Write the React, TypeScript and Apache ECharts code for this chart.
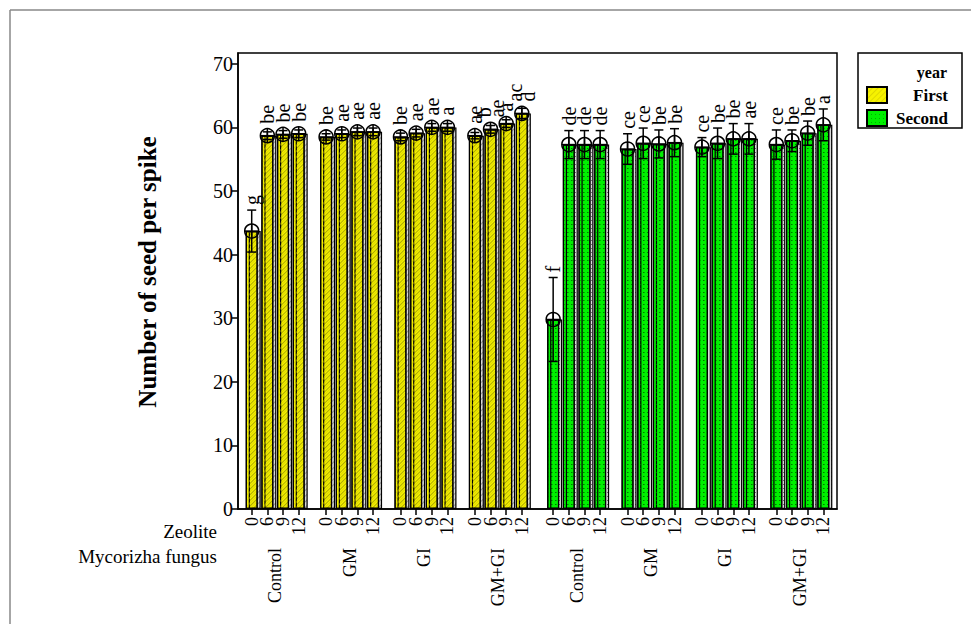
import React, { useEffect, useRef } from "react";
import * as echarts from "echarts";

// ---- data ----
const zeoliteLevels = ["0", "6", "9", "12"];
const fungusGroups = ["Control", "GM", "GI", "GM+GI"];
const years = ["First", "Second"];
const yTicks = [0, 10, 20, 30, 40, 50, 60, 70];

const firstMeans = [43.7, 58.7, 58.9, 59.0, 58.5, 59.0, 59.3, 59.3, 58.5, 59.1, 60.0, 60.0, 58.7, 59.7, 60.6, 62.2];
const firstErrors = [3.3, 0.6, 0.6, 0.6, 0.5, 0.6, 0.6, 0.6, 0.6, 0.6, 0.6, 0.6, 0.5, 0.6, 0.6, 0.8];
const firstLetters = ["g", "be", "be", "be", "be", "ae", "ae", "ae", "be", "ae", "ae", "a", "ae", "b\nae", "a", "ac\nd"];

const secondMeans = [29.8, 57.3, 57.3, 57.3, 56.6, 57.5, 57.4, 57.6, 56.9, 57.5, 58.2, 58.2, 57.3, 57.9, 59.1, 60.4];
const secondErrors = [6.6, 2.2, 2.2, 2.2, 2.4, 2.4, 2.2, 2.2, 1.5, 2.4, 2.4, 2.4, 2.3, 1.7, 1.9, 2.5];
const secondLetters = ["f", "de", "de", "de", "ce", "ce", "be", "be", "ce", "be", "be", "ae", "ce", "be", "be", "a"];

// ---- layout of category slots (fine grid) ----
const PAD = 3;
const GROUP_STEP = 19;
const BAR_STEP = 4;
const NCAT = 153;
function posOf(year: number, group: number, level: number) {
  return PAD + (year * 4 + group) * GROUP_STEP + year + level * BAR_STEP;
}

const SERIF = '"Liberation Serif", "Times New Roman", serif';

export default function App() {
  const ref = useRef<HTMLDivElement>(null);
  useEffect(() => {
    if (!ref.current) return;
    const chart = echarts.init(ref.current, null, { renderer: "svg" });

    const cats = Array.from({ length: NCAT }, (_, i) => String(i));
    const zeoLabelAt: Record<number, string> = {};
    const groupLabelAt: Record<number, string> = {};
    const firstBar: any[] = Array(NCAT).fill("-");
    const secondBar: any[] = Array(NCAT).fill("-");
    const meansByYear = [firstMeans, secondMeans];
    const errsByYear = [firstErrors, secondErrors];
    const lettersByYear = [firstLetters, secondLetters];
    const errData: any[][] = [[], []];
    for (let y = 0; y < 2; y++) {
      for (let g = 0; g < 4; g++) {
        groupLabelAt[posOf(y, g, 0) + 6] = fungusGroups[g];
        for (let l = 0; l < 4; l++) {
          const p = posOf(y, g, l);
          const k = g * 4 + l;
          zeoLabelAt[p] = zeoliteLevels[l];
          const m = meansByYear[y][k];
          const e = errsByYear[y][k];
          (y === 0 ? firstBar : secondBar)[p] = m;
          errData[y].push([p, m, m - e, m + e]);
        }
      }
    }

    const hatch = {
      symbol: "rect",
      symbolSize: 1,
      dashArrayX: [1, 0],
      dashArrayY: [1, 3],
      rotation: -Math.PI / 4,
      color: "rgba(170,160,0,0.3)",
    };
    const dots = {
      symbol: "rect",
      symbolSize: 1,
      dashArrayX: [1, 3],
      dashArrayY: [1, 3],
      color: "rgba(0,110,0,0.5)",
    };

    const makeErr = (y: number) => ({
      type: "custom",
      name: years[y] + " error",
      xAxisIndex: 0,
      yAxisIndex: 0,
      z: 10,
      silent: true,
      data: errData[y],
      encode: { x: 0, y: 1 },
      renderItem: (params: any, api: any) => {
        const xi = api.value(0);
        const c = api.coord([xi, api.value(1)]);
        const lo = api.coord([xi, api.value(2)]);
        const hi = api.coord([xi, api.value(3)]);
        const r = 7;
        const cap = 4.5;
        const st = { stroke: "#000", lineWidth: 1.5, fill: null };
        const top = Math.min(hi[1], c[1] - r) - 5;
        return {
          type: "group",
          children: [
            { type: "line", shape: { x1: c[0], y1: lo[1], x2: c[0], y2: hi[1] }, style: st },
            { type: "line", shape: { x1: c[0] - cap, y1: lo[1], x2: c[0] + cap, y2: lo[1] }, style: st },
            { type: "line", shape: { x1: c[0] - cap, y1: hi[1], x2: c[0] + cap, y2: hi[1] }, style: st },
            { type: "circle", shape: { cx: c[0], cy: c[1], r }, style: { stroke: "#000", lineWidth: 1.5, fill: "rgba(0,0,0,0)" } },
            { type: "line", shape: { x1: c[0] - r, y1: c[1], x2: c[0] + r, y2: c[1] }, style: st },
            { type: "line", shape: { x1: c[0], y1: c[1] - r, x2: c[0], y2: c[1] + r }, style: st },
            {
              type: "text",
              x: c[0],
              y: top,
              rotation: Math.PI / 2,
              style: {
                text: lettersByYear[y][params.dataIndex],
                font: `20px ${SERIF}`,
                fill: "#000",
                align: "left",
                verticalAlign: "middle",
                lineHeight: 13,
              },
            },
          ],
        };
      },
    });

    const barStyle = (color: string, decal: any) => ({
      color,
      borderColor: "#000",
      borderWidth: 1.2,
      decal,
      shadowColor: "rgba(0,0,0,0.15)",
      shadowOffsetX: 3,
      shadowBlur: 0,
    });

    const option: any = {
      animation: false,
      backgroundColor: "#fff",
      aria: { enabled: true, decal: { show: true } },
      textStyle: { fontFamily: SERIF },
      grid: {
        left: 238,
        top: 53,
        width: 599,
        height: 456,
        show: true,
        borderColor: "#000",
        borderWidth: 1.5,
        backgroundColor: "rgba(0,0,0,0)",
      },
      legend: {
        data: years,
        orient: "vertical",
        left: 866,
        top: 86,
        padding: 0,
        itemWidth: 20,
        itemHeight: 16,
        itemGap: 5,
        icon: "rect",
        selectedMode: false,
        formatter: (n: string) => `{t|${n}}`,
        textStyle: {
          lineHeight: 16,
          rich: {
            t: {
              width: 56,
              height: 16,
              lineHeight: 16,
              align: "right",
              fontFamily: SERIF,
              fontWeight: "bold",
              fontSize: 17,
              color: "#000",
            },
          },
        },
      },
      xAxis: [
        {
          type: "category",
          data: cats,
          gridIndex: 0,
          position: "bottom",
          axisLine: { show: true, lineStyle: { color: "#000", width: 1.5 } },
          axisTick: {
            show: true,
            alignWithLabel: true,
            length: 6,
            interval: (i: number) => zeoLabelAt[i] !== undefined,
            lineStyle: { color: "#000", width: 1.5 },
          },
          axisLabel: {
            interval: 0,
            rotate: 90,
            margin: 8,
            fontFamily: SERIF,
            fontSize: 18,
            color: "#000",
            formatter: (_v: string, i: number) => zeoLabelAt[i] ?? "",
          },
          splitLine: { show: false },
        },
        {
          type: "category",
          data: cats,
          gridIndex: 0,
          position: "bottom",
          offset: 0,
          axisLine: { show: false },
          axisTick: { show: false },
          axisLabel: {
            interval: 0,
            rotate: 90,
            margin: 39,
            fontFamily: SERIF,
            fontSize: 18,
            color: "#000",
            formatter: (_v: string, i: number) => groupLabelAt[i] ?? "",
          },
          splitLine: { show: false },
        },
      ],
      yAxis: {
        type: "value",
        min: 0,
        max: 71.7,
        interval: 10,
        name: "Number of seed per spike",
        nameLocation: "middle",
        nameGap: 78,
        nameTextStyle: { fontFamily: SERIF, fontWeight: "bold", fontSize: 25, color: "#000", padding: [0, 0, 0, 18] },
        axisLine: { show: true, lineStyle: { color: "#000", width: 1.5 } },
        axisTick: { show: true, length: 6, customValues: yTicks, lineStyle: { color: "#000", width: 1.5 } },
        axisLabel: { customValues: yTicks, fontFamily: SERIF, fontSize: 20, color: "#000", margin: 5 },
        splitLine: { show: false },
      },
      series: [
        {
          type: "bar",
          name: years[0],
          data: firstBar,
          barWidth: 12,
          barGap: "-100%",
          itemStyle: barStyle("#f6f200", hatch),
        },
        {
          type: "bar",
          name: years[1],
          data: secondBar,
          barWidth: 12,
          barGap: "-100%",
          itemStyle: barStyle("#00f000", dots),
        },
        makeErr(0),
        makeErr(1),
      ],
      graphic: [
        { type: "line", shape: { x1: 10, y1: 10, x2: 971, y2: 10 }, style: { stroke: "#888", lineWidth: 1.5 } },
        { type: "line", shape: { x1: 10, y1: 10, x2: 10, y2: 624 }, style: { stroke: "#888", lineWidth: 1.5 } },
        {
          type: "text",
          x: 217,
          y: 531,
          style: { text: "Zeolite", font: `19px ${SERIF}`, fill: "#000", align: "right", verticalAlign: "middle" },
        },
        {
          type: "text",
          x: 217,
          y: 556,
          style: { text: "Mycorizha fungus", font: `19px ${SERIF}`, fill: "#000", align: "right", verticalAlign: "middle" },
        },
        {
          type: "rect",
          shape: { x: 858, y: 53, width: 104, height: 75 },
          style: { fill: "#fff", stroke: "#000", lineWidth: 1.5 },
          z: -1,
        },
        {
          type: "text",
          x: 947,
          y: 72,
          style: { text: "year", font: `bold 16px ${SERIF}`, fill: "#000", align: "right", verticalAlign: "middle" },
        },
      ],
    };
    chart.setOption(option);
    return () => chart.dispose();
  }, []);
  return <div ref={ref} style={{ position: "absolute", left: 0, top: 0, width: 971, height: 624 }} />;
}
